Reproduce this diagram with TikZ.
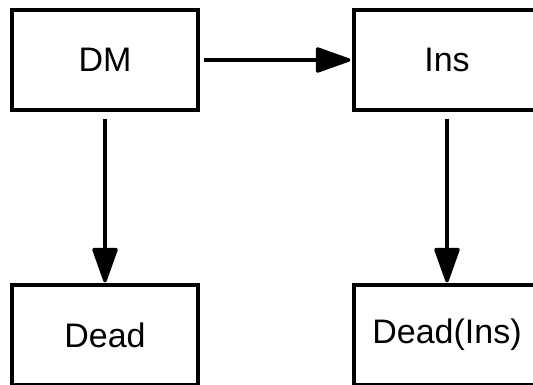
\documentclass[tikz,border=0pt]{standalone}
\usepackage{fontspec}
\setmainfont{Liberation Sans}
\usetikzlibrary{arrows.meta}
\begin{document}
\begin{tikzpicture}[x=1pt,y=-1pt,
  box/.style={draw=black,line width=3.2pt,minimum width=186pt,minimum height=100pt,inner sep=0pt,font=\fontsize{34}{40}\selectfont},
  arr/.style={line width=3.4pt,-{Triangle[length=38pt,width=26pt,round]}}]
\useasboundingbox (0,0) rectangle (533,385);
\fill[white] (0,0) rectangle (533,385);
\clip (0,0) rectangle (533,385);
\node[box] (dm) at (105,60) {\raisebox{-2pt}{DM}};
\node[box] (ins) at (447,60) {\raisebox{-2pt}{Ins}};
\node[box] (dead) at (105,335) {\raisebox{-2pt}{Dead}};
\node[box] (deadins) at (447,335) {Dead(Ins)};
\draw[arr,shorten <=4pt,shorten >=2pt] (dm) -- (ins);
\draw[arr,shorten <=7pt,shorten >=1pt] (dm) -- (dead);
\draw[arr,shorten <=7pt,shorten >=1pt] (ins) -- (deadins);
\end{tikzpicture}
\end{document}
